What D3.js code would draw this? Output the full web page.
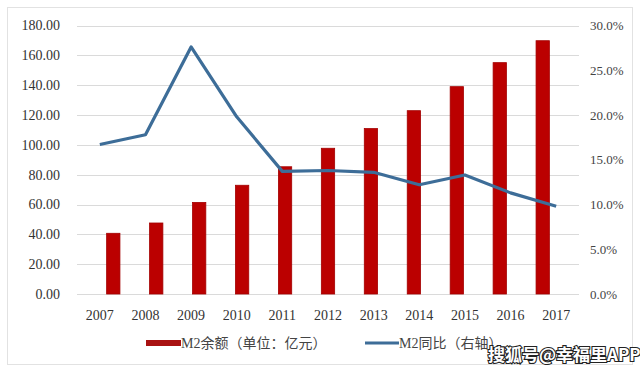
<!DOCTYPE html>
<html>
<head>
<meta charset="utf-8">
<script src="https://cdn.jsdelivr.net/npm/d3@7"></script>
<style>
  body { margin: 0; background: #fff; }
  svg { display: block; }
  .serif { font-family: 'Liberation Serif', 'DejaVu Serif', serif; }
</style>
</head>
<body>
<div id="chart"></div>
<script>
var years = ['2007', '2008', '2009', '2010', '2011', '2012', '2013', '2014', '2015', '2016', '2017'];
var m2Balance = [40.7, 47.6, 61.4, 72.9, 85.3, 97.7, 110.9, 122.9, 139.0, 155.1, 169.8];
var m2Growth = [16.7, 17.8, 27.6, 19.8, 13.7, 13.8, 13.6, 12.2, 13.3, 11.3, 9.8];
var leftTicks = [0, 20, 40, 60, 80, 100, 120, 140, 160, 180];
var rightTicks = [0, 5, 10, 15, 20, 25, 30];
var legendLabels = ['M2余额（单位：亿元）', 'M2同比（右轴）'];

var width = 640, height = 371;
var plot = { left: 77, right: 579, top: 25.5, bottom: 294 };

var svg = d3.select('#chart').append('svg')
  .attr('width', width)
  .attr('height', height);

// outer frame
svg.append('rect')
  .attr('x', 7.5).attr('y', 7.5)
  .attr('width', 625).attr('height', 357)
  .attr('fill', 'none')
  .attr('stroke', '#e2e2e2');

var x = d3.scaleBand().domain(years).range([plot.left, plot.right]).padding(0.69);
var xPoint = d3.scaleBand().domain(years).range([plot.left, plot.right]);
var yLeft = d3.scaleLinear().domain([0, 180]).range([plot.bottom, plot.top]);
var yRight = d3.scaleLinear().domain([0, 30]).range([plot.bottom, plot.top]);

// grid lines
svg.append('g').selectAll('line')
  .data(leftTicks)
  .enter().append('line')
  .attr('x1', plot.left).attr('x2', plot.right)
  .attr('y1', function (d) { return Math.round(yLeft(d)) + 0.5; })
  .attr('y2', function (d) { return Math.round(yLeft(d)) + 0.5; })
  .attr('stroke', '#dadada')
  .attr('stroke-width', 1);

// left axis labels
svg.append('g').selectAll('text')
  .data(leftTicks)
  .enter().append('text')
  .attr('class', 'serif')
  .attr('x', 60)
  .attr('y', function (d) { return yLeft(d); })
  .attr('dy', '0.35em')
  .attr('text-anchor', 'end')
  .style('font-size', '14px')
  .style('fill', '#333')
  .text(function (d) { return d3.format('.2f')(d); });

// right axis labels
svg.append('g').selectAll('text')
  .data(rightTicks)
  .enter().append('text')
  .attr('class', 'serif')
  .attr('x', 590)
  .attr('y', function (d) { return yRight(d); })
  .attr('dy', '0.35em')
  .attr('text-anchor', 'start')
  .style('font-size', '13px')
  .style('fill', '#444')
  .text(function (d) { return d.toFixed(1) + '%'; });

// x labels
svg.append('g').selectAll('text')
  .data(years)
  .enter().append('text')
  .attr('class', 'serif')
  .attr('x', function (d) { return xPoint(d) + xPoint.bandwidth() / 2; })
  .attr('y', 315)
  .attr('dy', '0.35em')
  .attr('text-anchor', 'middle')
  .style('font-size', '14px')
  .style('fill', '#333')
  .text(function (d) { return d; });

// bars
svg.append('g').selectAll('rect')
  .data(m2Balance)
  .enter().append('rect')
  .attr('x', function (d, i) { return x(years[i]); })
  .attr('y', function (d) { return yLeft(d); })
  .attr('width', x.bandwidth())
  .attr('height', function (d) { return plot.bottom - yLeft(d); })
  .attr('fill', '#bb0000')
  .attr('stroke', '#a30000')
  .attr('stroke-width', 0.8);

// growth line
var line = d3.line()
  .x(function (d, i) { return xPoint(years[i]) + xPoint.bandwidth() / 2; })
  .y(function (d) { return yRight(d); });

svg.append('path')
  .datum(m2Growth)
  .attr('d', line)
  .attr('fill', 'none')
  .attr('stroke', '#3d6d98')
  .attr('stroke-width', 3.2)
  .attr('stroke-linejoin', 'round');

// legend
var legend = svg.append('g');
legend.append('rect')
  .attr('x', 146).attr('y', 340)
  .attr('width', 35).attr('height', 6)
  .attr('fill', '#a91212');
legend.append('text')
  .attr('x', 181).attr('y', 343)
  .attr('dy', '0.35em')
  .style('font-family', "'Liberation Serif', 'Noto Sans CJK SC', serif")
  .style('font-size', '14px')
  .style('fill', '#444')
  .text(legendLabels[0]);
legend.append('line')
  .attr('x1', 365).attr('x2', 399)
  .attr('y1', 343).attr('y2', 343)
  .attr('stroke', '#3d6d98')
  .attr('stroke-width', 3);
legend.append('text')
  .attr('x', 399).attr('y', 343)
  .attr('dy', '0.35em')
  .style('font-family', "'Liberation Serif', 'Noto Sans CJK SC', serif")
  .style('font-size', '14px')
  .style('fill', '#444')
  .text(legendLabels[1]);

// watermark
svg.append('text')
  .attr('x', 488).attr('y', 361)
  .style('font-family', "'Noto Sans CJK SC', sans-serif")
  .style('font-size', '17px')
  .style('font-weight', 'bold')
  .style('fill', '#fff')
  .style('stroke', '#222')
  .style('stroke-width', 2.2)
  .style('paint-order', 'stroke')
  .text('搜狐号@幸福里APP');
</script>
</body>
</html>
